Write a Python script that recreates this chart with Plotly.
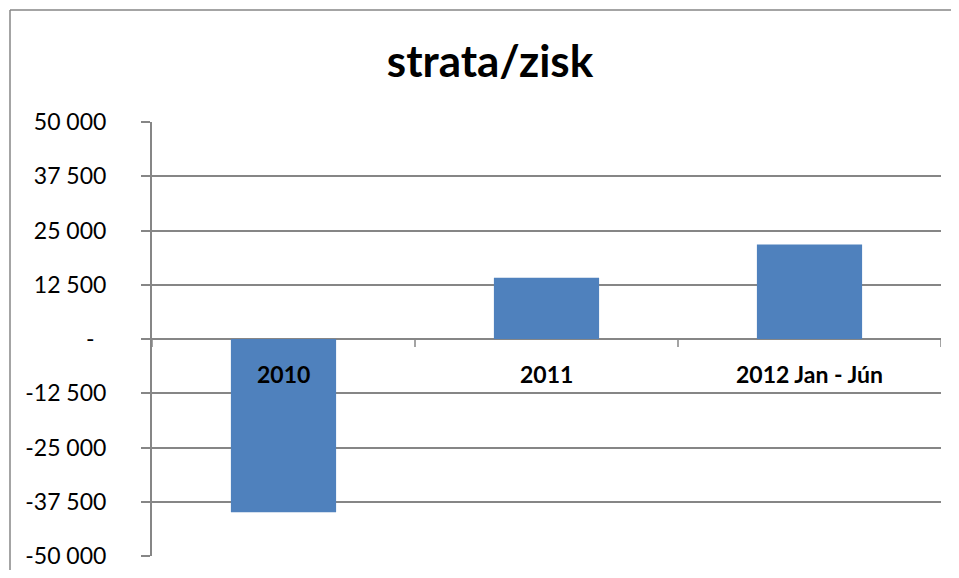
import plotly.graph_objects as go

categories = ["2010", "2011", "2012 Jan - Jún"]
values = [-39900, 14100, 21800]
tick_values = [50000, 37500, 25000, 12500, 0, -12500, -25000, -37500, -50000]
tick_labels = ["50 000", "37 500", "25 000", "12 500", "-\u00a0\u00a0", "-12 500", "-25 000", "-37 500", "-50 000"]
title_text = "strata/zisk"

grid = "#868686"
font_family = "Lato, 'Open Sans', sans-serif"

# page body has an 8px margin, so the figure is laid out relative to (8, 8);
# keep it small enough that the page does not get scrollbars
W, H = 943, 562
L, T, R, B = 144, 114, 10, 14
pw, ph = W - L - R, H - T - B

fig = go.Figure(
    go.Bar(
        x=categories,
        y=values,
        marker=dict(color="#4F81BD", line=dict(width=0)),
        width=0.4,
    )
)

# category labels sit just below the zero line, over the bars
annotations = [
    dict(
        x=i, y=0, xref="x", yref="y",
        text="<b>" + c + "</b>",
        showarrow=False,
        yanchor="middle", xanchor="center",
        yshift=-35,
        font=dict(family=font_family, size=23, color="black"),
    )
    for i, c in enumerate(categories)
]

# category-boundary tick marks hanging below the zero line
shapes = [
    dict(
        type="line", xref="x", yref="y",
        x0=i - 0.5, x1=i - 0.5,
        ysizemode="pixel", yanchor=0, y0=0, y1=-8,
        line=dict(color=grid, width=1.5),
    )
    for i in range(len(categories) + 1)
]

# outer chart frame (only the top and left edges fall inside the picture)
shapes += [
    dict(
        type="line", xref="paper", yref="paper",
        x0=(2 - L) / pw, x1=(W + 20 - L) / pw,
        y0=1 + (T - 2) / ph, y1=1 + (T - 2) / ph,
        line=dict(color=grid, width=1.5),
    ),
    dict(
        type="line", xref="paper", yref="paper",
        x0=(2 - L) / pw, x1=(2 - L) / pw,
        y0=1 + (T - 2) / ph, y1=-(B + 20) / ph,
        line=dict(color=grid, width=1.5),
    ),
]

fig.update_layout(
    width=W,
    height=H,
    margin=dict(l=L, r=R, t=T, b=B, autoexpand=False),
    paper_bgcolor="white",
    plot_bgcolor="white",
    showlegend=False,
    title=dict(
        text="<b>" + title_text + "</b>",
        x=482 / W,
        xanchor="center",
        y=1 - 54 / H,
        yanchor="middle",
        font=dict(family=font_family, size=44, color="black"),
    ),
    font=dict(family=font_family, color="black"),
    xaxis=dict(
        type="category",
        range=[-0.5, len(categories) - 0.5],
        visible=False,
        automargin=False,
    ),
    yaxis=dict(
        range=[-50000, 50000],
        tickmode="array",
        tickvals=tick_values,
        ticktext=tick_labels,
        showline=True,
        linecolor=grid,
        linewidth=2,
        ticks="outside",
        ticklen=9,
        tickwidth=2,
        tickcolor=grid,
        showgrid=True,
        gridcolor=grid,
        gridwidth=2,
        zeroline=True,
        zerolinecolor=grid,
        zerolinewidth=2,
        tickfont=dict(family=font_family, size=23, color="black"),
        ticklabelstandoff=30,
        automargin=False,
        layer="below traces",
    ),
    annotations=annotations,
    shapes=shapes,
)

fig.write_html(
    "out.html",
    config={"displayModeBar": False},
    post_script="document.documentElement.style.overflow='hidden';document.body.style.overflow='hidden';",
)
